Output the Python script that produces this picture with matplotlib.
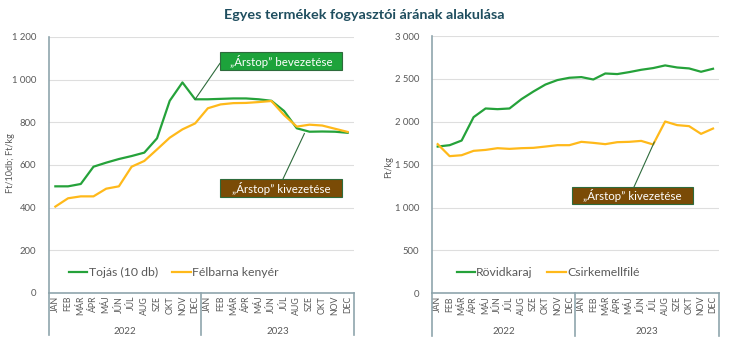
import matplotlib
matplotlib.use("Agg")
import matplotlib.pyplot as plt
from matplotlib.patches import Rectangle
from matplotlib.lines import Line2D

plt.rcParams['font.family'] = ['Lato', 'DejaVu Sans']

months = ["JAN", "FEB", "MÁR", "ÁPR", "MÁJ", "JÚN", "JÚL", "AUG", "SZE", "OKT", "NOV", "DEC"]
years = ["2022", "2023"]
categories = months * 2

tojas = [500, 500, 511, 592, 611, 628, 642, 658, 725, 901, 987, 908,
         908, 910, 912, 912, 908, 901, 853, 772, 756, 757, 756, 751]
felbarna = [405, 444, 453, 453, 489, 500, 592, 619, 673, 728, 767, 795,
            866, 884, 890, 891, 895, 900, 834, 780, 789, 785, 770, 755]
rovidkaraj = [1711, 1727, 1781, 2054, 2155, 2147, 2155, 2264, 2353, 2434, 2486, 2513,
              2521, 2493, 2563, 2556, 2579, 2606, 2626, 2657, 2633, 2622, 2583, 2618]
csirke = [1739, 1599, 1610, 1661, 1672, 1692, 1684, 1692, 1696, 1711, 1727, 1727,
          1766, 1754, 1739, 1762, 1766, 1777, 1735, 2003, 1961, 1949, 1859, 1921]

left_ticks = [0, 200, 400, 600, 800, 1000, 1200]
right_ticks = [0, 500, 1000, 1500, 2000, 2500, 3000]

GREEN = '#25a23a'
YELLOW = '#ffb91a'
AXIS = '#8fa5ad'
TXT = '#595959'
GRID = '#dedede'
BOX_GREEN = '#1da33b'
BOX_BROWN = '#7a4b06'
BOX_EDGE = '#2e6b3c'

fig = plt.figure(figsize=(7.30, 3.44), dpi=100)

fig.text(0.4986, 0.956, "Egyes termékek fogyasztói árának alakulása",
         ha='center', va='center', fontsize=10.4, fontweight='bold', color='#1f4e5f')


def fmt(v):
    return f"{v:,}".replace(",", " ")


def setup(ax, ticks, ylim):
    n = len(categories)
    ax.set_xlim(-0.5, n - 0.5)
    ax.set_ylim(0, ylim)
    ax.set_yticks(ticks)
    ax.set_yticklabels([fmt(t) for t in ticks], fontsize=6.8, color=TXT)
    ax.set_xticks(range(n))
    ax.set_xticklabels(categories, rotation=90, fontsize=6.3, color=TXT)
    ax.tick_params(axis='both', length=0)
    ax.tick_params(axis='y', pad=9)
    ax.tick_params(axis='x', pad=2)
    ax.grid(axis='y', color=GRID, lw=0.8)
    ax.set_axisbelow(True)
    for s in ['top', 'right']:
        ax.spines[s].set_visible(False)
    for s in ['left', 'bottom']:
        ax.spines[s].set_color(AXIS)
        ax.spines[s].set_linewidth(1.2)
    trans = ax.get_xaxis_transform()
    for xb in [-0.5, n / 2 - 0.5, n - 0.5]:
        ax.add_line(Line2D([xb, xb], [0, -0.165], transform=trans, color=AXIS,
                           lw=1.2, clip_on=False))
    for i, yr in enumerate(years):
        ax.text(i * 12 + 5.5, -0.150, yr, transform=trans, ha='center', va='center',
                fontsize=7, color=TXT)


def box(ax, x0, y0, x1, y1, fc, text):
    ax.add_patch(Rectangle((x0, y0), x1 - x0, y1 - y0, transform=ax.transAxes,
                           facecolor=fc, edgecolor=BOX_EDGE, lw=0.8, zorder=5,
                           clip_on=False))
    ax.text((x0 + x1) / 2, (y0 + y1) / 2, text, transform=ax.transAxes, ha='center',
            va='center', color='white', fontsize=8.3, zorder=6)


def connector(ax, start, end_data):
    ax.annotate("", xy=end_data, xycoords='data', xytext=start, textcoords='axes fraction',
                arrowprops=dict(arrowstyle='-', color=BOX_EDGE, lw=0.8,
                                shrinkA=0, shrinkB=0), zorder=4)


# Left chart
ax1 = fig.add_axes([49 / 730, 51 / 344, 305 / 730, 256 / 344])
setup(ax1, left_ticks, 1200)
x = range(len(categories))
ax1.plot(x, tojas, color=GREEN, lw=1.6, label="Tojás (10 db)")
ax1.plot(x, felbarna, color=YELLOW, lw=1.6, label="Félbarna kenyér")
ax1.legend(loc='lower left', bbox_to_anchor=(0.05, 0.04), ncol=2, frameon=False,
           fontsize=8.8, handlelength=1.5, handletextpad=0.1, columnspacing=1.2,
           labelcolor=TXT, borderaxespad=0)
fig.text(11 / 730, 1 - 163 / 344, "Ft/10db; Ft/kg", rotation=90, ha='center', va='center',
         fontsize=6.6, color=TXT)
connector(ax1, (0.561, 0.898), (11, 908))
connector(ax1, (0.767, 0.445), (19.6, 748))
box(ax1, 0.561, 0.871, 0.961, 0.941, BOX_GREEN, "„Árstop” bevezetése")
box(ax1, 0.561, 0.375, 0.961, 0.445, BOX_BROWN, "„Árstop” kivezetése")

# Right chart
ax2 = fig.add_axes([431.7 / 730, 50.7 / 344, 287.3 / 730, 257.3 / 344])
setup(ax2, right_ticks, 3000)
ax2.plot(x, rovidkaraj, color=GREEN, lw=1.6, label="Rövidkaraj")
ax2.plot(x, csirke, color=YELLOW, lw=1.6, label="Csirkemellfilé")
ax2.legend(loc='lower left', bbox_to_anchor=(0.07, 0.04), ncol=2, frameon=False,
           fontsize=8.8, handlelength=1.5, handletextpad=0.1, columnspacing=1.2,
           labelcolor=TXT, borderaxespad=0)
fig.text(389 / 730, 1 - 167 / 344, "Ft/kg", rotation=90, ha='center', va='center',
         fontsize=6.6, color=TXT)
connector(ax2, (0.704, 0.413), (18.1, 1765))
box(ax2, 0.488, 0.347, 0.909, 0.413, BOX_BROWN, "„Árstop” kivezetése")

fig.savefig("out.png", dpi=100)
